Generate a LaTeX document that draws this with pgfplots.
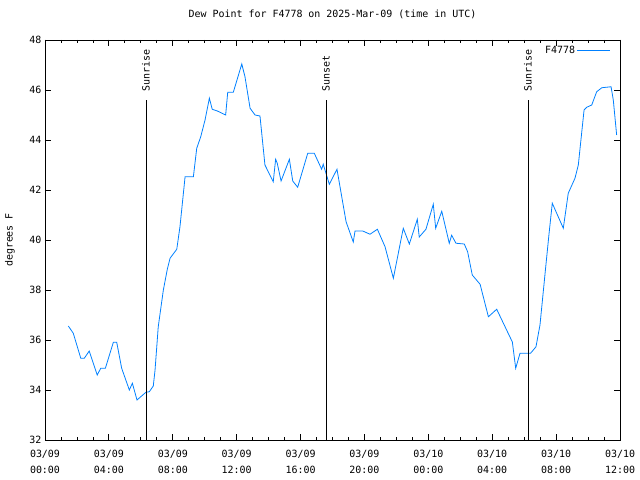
\documentclass[border=0pt]{standalone}
\usepackage{pgfplots}
\pgfplotsset{compat=1.18}
\usepackage{fontspec}
\setmainfont{DejaVu Sans Mono}
\definecolor{dew}{RGB}{0,128,255}
\begin{document}
\begin{tikzpicture}
\path[use as bounding box] (-45bp,-40bp) rectangle (595bp,440bp);
\begin{axis}[
  at={(0,0)}, anchor=south west,
  scale only axis, width=575bp, height=400bp,
  xmin=0, xmax=36, ymin=32, ymax=48,
  xtick={0,4,...,36}, minor xtick={0,1,...,36},
  ytick={32,34,...,48},
  xticklabels={{03/09\\00:00},{03/09\\04:00},{03/09\\08:00},{03/09\\12:00},{03/09\\16:00},{03/09\\20:00},{03/10\\00:00},{03/10\\04:00},{03/10\\08:00},{03/10\\12:00}},
  /pgf/number format/assume math mode=true,
  tick label style={font=\fontsize{10}{16}\selectfont},
  x tick label style={align=center, yshift=-7bp},
  tick align=inside,
  major tick length=6bp, minor tick length=3bp,
  every tick/.style={black, line width=0.8bp},
  axis line style={line width=0.8bp},
  title={Dew Point for F4778 on 2025-Mar-09 (time in UTC)},
  title style={at={(0.5,1)}, anchor=base, yshift=17bp, font=\fontsize{10}{12}\selectfont},
  ylabel={degrees F},
  ylabel style={at={(axis description cs:-0.0609,0.5)}, anchor=center, font=\fontsize{10}{12}\selectfont},
  legend style={at={(1,1)}, anchor=north east, draw=none, fill=none, font=\fontsize{10}{12}\selectfont, xshift=-6bp, yshift=-2bp},
  legend plot pos=right,
  legend image code/.code={\path (0bp,0bp) -- (4bp,0bp); \draw[#1] (4bp,0bp) -- (33bp,0bp);},
]
\addplot[color=dew, line width=0.8bp, mark=none] coordinates {
(1.46,36.56) (1.77,36.27) (2.24,35.27) (2.46,35.27) (2.77,35.56) (3.27,34.60)
(3.49,34.87) (3.78,34.87) (4.28,35.91) (4.49,35.91) (4.80,34.87) (5.28,34.00)
(5.47,34.27) (5.76,33.60) (6.32,33.91) (6.53,33.93) (6.78,34.16) (6.89,34.80)
(7.09,36.53) (7.41,38.00) (7.66,38.84) (7.83,39.27) (8.25,39.63) (8.45,40.53)
(8.77,42.53) (9.29,42.53) (9.50,43.67) (9.75,44.13) (10.02,44.80) (10.29,45.67)
(10.47,45.23) (10.79,45.16) (11.31,45.00) (11.44,45.91) (11.79,45.91) (12.32,47.04)
(12.52,46.53) (12.84,45.27) (13.15,45.00) (13.46,44.96) (13.77,43.00) (14.29,42.33)
(14.44,43.23) (14.54,43.07) (14.78,42.36) (15.30,43.23) (15.51,42.36) (15.82,42.11)
(16.45,43.47) (16.86,43.47) (17.32,42.83) (17.42,43.03) (17.80,42.23) (18.28,42.83)
(18.85,40.73) (19.30,39.92) (19.41,40.36) (19.89,40.36) (20.35,40.23) (20.81,40.43)
(21.29,39.73) (21.81,38.47) (22.43,40.47) (22.81,39.84) (23.31,40.83) (23.43,40.12)
(23.85,40.43) (24.31,41.43) (24.46,40.47) (24.84,41.15) (25.31,39.87) (25.46,40.19)
(25.73,39.87) (26.25,39.84) (26.46,39.53) (26.75,38.60) (27.24,38.23) (27.76,36.93)
(28.28,37.23) (29.26,35.92) (29.47,34.87) (29.74,35.47) (30.40,35.47) (30.74,35.73)
(30.99,36.60) (31.31,38.67) (31.56,40.27) (31.76,41.47) (32.45,40.47) (32.76,41.87)
(33.18,42.47) (33.39,43.00) (33.75,45.20) (33.92,45.31) (34.23,45.40) (34.54,45.93)
(34.86,46.09) (35.44,46.13) (35.58,45.60) (35.79,44.20)
};
\addlegendentry{F4778}
\draw[black, line width=0.8bp] (axis cs:6.32,32) -- (axis cs:6.32,45.6)
  node[rotate=90, anchor=west, inner sep=0pt, xshift=8bp, font=\fontsize{10}{12}\selectfont] {Sunrise};
\draw[black, line width=0.8bp] (axis cs:17.59,32) -- (axis cs:17.59,45.6)
  node[rotate=90, anchor=west, inner sep=0pt, xshift=8bp, font=\fontsize{10}{12}\selectfont] {Sunset};
\draw[black, line width=0.8bp] (axis cs:30.24,32) -- (axis cs:30.24,45.6)
  node[rotate=90, anchor=west, inner sep=0pt, xshift=8bp, font=\fontsize{10}{12}\selectfont] {Sunrise};
\end{axis}
\end{tikzpicture}
\end{document}
